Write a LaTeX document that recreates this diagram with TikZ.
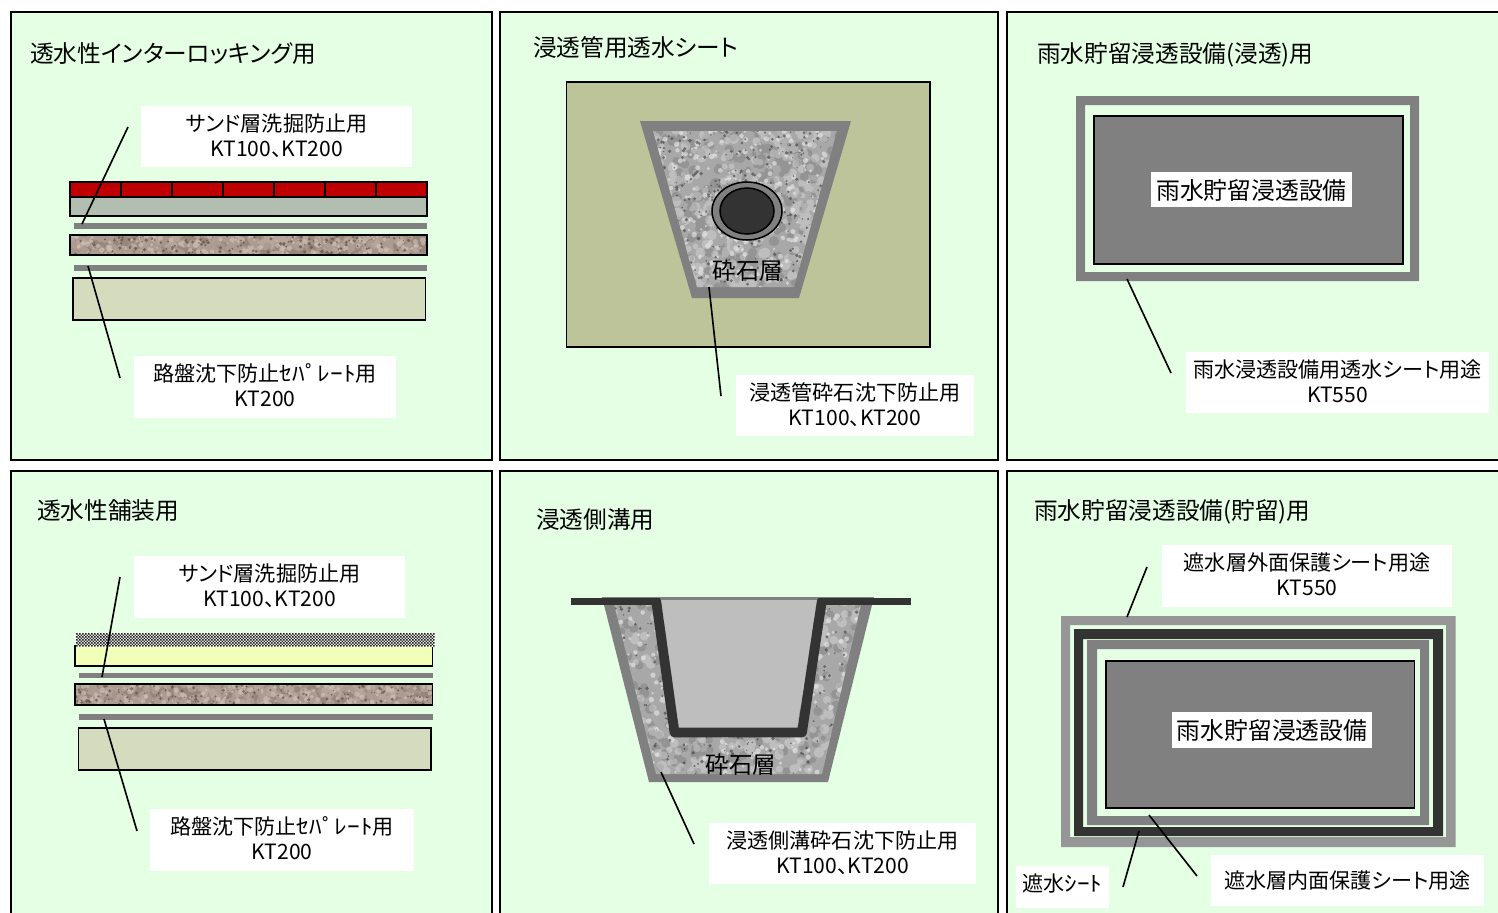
\documentclass[tikz,border=0pt]{standalone}
\usepackage{fontspec}
\newfontfamily\jpfont[RawFeature=+palt]{Noto Sans CJK JP}
\newfontfamily\halfkana[RawFeature=+palt,FakeStretch=1.2]{Noto Sans CJK JP}
\usetikzlibrary{patterns}

\definecolor{panelgreen}{HTML}{E4FFE4}
\definecolor{brickred}{HTML}{C00000}
\definecolor{sandgray}{HTML}{B2BEB0}
\definecolor{basegreen}{HTML}{D5DCBE}
\definecolor{soilgreen}{HTML}{BDC499}
\definecolor{sheetgray}{HTML}{808080}
\definecolor{framegray}{HTML}{969696}
\definecolor{darkliner}{HTML}{333333}
\definecolor{palepaste}{HTML}{F2FFB8}
\definecolor{watergray}{HTML}{BEBEBE}
\definecolor{brownbase}{HTML}{A8958A}
\definecolor{brownlight}{HTML}{D8CCC2}
\definecolor{browndark}{HTML}{54443C}
\definecolor{stonebase}{HTML}{A8A8A8}
\definecolor{stonelight}{HTML}{F2F2F2}
\definecolor{stonedark}{HTML}{3C3C3C}

\tikzset{
    panel/.style={draw=black, line width=1.7pt, fill=panelgreen},
    layer/.style={draw=black, line width=1.3pt},
    sheet/.style={fill=sheetgray},
    leader/.style={draw=black, line width=1.4pt},
    titletext/.style={anchor=west, inner sep=0pt, text height=17.5pt, text depth=2.5pt, font=\jpfont\fontsize{20.2}{24}\selectfont},
    labelbox/.style 2 args={fill=white, inner sep=0pt, align=center, minimum width=#1*0.03cm, minimum height=#2*0.03cm,
        font=\jpfont\fontsize{18}{21.3}\selectfont},
    twolines/.style={text depth=2.6pt},
    bigbox/.style 2 args={fill=white, inner sep=0pt, minimum width=#1*0.03cm, minimum height=#2*0.03cm,
        font=\jpfont\fontsize{20.3}{24}\selectfont},
    stonetext/.style={inner sep=0pt, font=\jpfont\fontsize{20}{24}\selectfont}
}

% x, y, width, height, count, base, light, dark
\newcommand{\stones}[8]{
    \fill[#6] (#1,#2) rectangle ++(#3,#4);
    \fill[#8, opacity=0.18] \foreach \i in {1,...,#5}{({#1+rnd*#3},{#2+rnd*#4}) circle [radius={2.5+rnd*3}]};
    \fill[#7, opacity=0.3] \foreach \i in {1,...,#5}{({#1+rnd*#3},{#2+rnd*#4}) circle [radius={2.5+rnd*3}]};
    \fill[#7, opacity=0.55] \foreach \i in {1,...,#5}{({#1+rnd*#3},{#2+rnd*#4}) circle [radius={1+rnd*1.8}]};
    \fill[#8, opacity=0.6] \foreach \i in {1,...,#5}{({#1+rnd*#3},{#2+rnd*#4}) circle [radius={0.6+rnd*1.3}]};
}

\begin{document}
\begin{tikzpicture}[x=0.03cm, y=-0.03cm]
    \clip (0,0) rectangle (1498,912);
    \fill[white] (0,0) rectangle (1498,912);
    \pgfmathsetseed{4711}

    % panels
    \draw[panel] (11,12) rectangle (492,460);
    \draw[panel] (500,12) rectangle (998,460);
    \draw[panel] (1007,12) rectangle (1520,460);
    \draw[panel] (11,471) rectangle (492,930);
    \draw[panel] (500,471) rectangle (998,930);
    \draw[panel] (1007,471) rectangle (1520,930);

    \node[titletext] at (30,54)(titleBlock){透水性インターロッキング用};
    \node[titletext] at (533,48)(titlePipe){浸透管用透水シート};
    \node[titletext] at (1037,54)(titleInfil){雨水貯留浸透設備(浸透)用};
    \node[titletext] at (37,511)(titlePave){透水性舗装用};
    \node[titletext] at (536,520)(titleGutter){浸透側溝用};
    \node[titletext] at (1034,511)(titleStore){雨水貯留浸透設備(貯留)用};

    % interlocking block section
    \draw[layer, fill=brickred] (70,182) rectangle (427,197);
    \foreach \bx in {121,172,223,274,325,376}
        \draw[layer] (\bx,182) -- (\bx,197);
    \draw[layer, fill=sandgray] (70,197) rectangle (427,216);
    \fill[sheet] (73.5,223) rectangle (427,228.5);
    \begin{scope}
        \clip (70,235) rectangle (427,255);
        \stones{70}{235}{357}{20}{150}{brownbase}{brownlight}{browndark}
    \end{scope}
    \draw[layer] (70,235) rectangle (427,255);
    \fill[sheet] (73.5,265) rectangle (427,270.5);
    \draw[layer, fill=basegreen] (73,278) rectangle (425.5,320);

    % pipe section
    \draw[draw=black, line width=1.3pt, fill=soilgreen] (566.5,82) rectangle (930,347);
    \fill[sheet] (640,121) -- (851,121) -- (799,298) -- (692,298) -- cycle;
    \begin{scope}
        \clip (653,131) -- (837,131) -- (794,287) -- (697,287) -- cycle;
        \stones{650}{128}{190}{162}{320}{stonebase}{stonelight}{stonedark}
    \end{scope}
    \draw[draw=black, line width=1.3pt, fill=sheetgray] (747,211) ellipse [x radius=35, y radius=29];
    \draw[draw=black, line width=1.3pt, fill=darkliner] (747,211) ellipse [x radius=27, y radius=23];
    \node[stonetext] at (748,271)(stonePipe){砕石層};

    % infiltration facility
    \fill[sheet, even odd rule] (1076,96) rectangle (1419,281) (1085,105) rectangle (1410,272);
    \draw[layer, fill=sheetgray] (1094,116) rectangle (1403,264);
    \node[bigbox={201}{35}, text height=20pt, text depth=2.5pt] at (1251.5,189.5)(coreInfil){雨水貯留浸透設備};

    % paving section
    \draw[layer, fill=palepaste] (75,646) rectangle (432.5,666);
    \fill[white] (76,633) rectangle (435,647);
    \fill[black!85]
    \foreach \cx in {0,2,...,238}{\foreach \cy in {0,2,...,8}{(76+\cx*1.5,633+\cy*1.5) rectangle ++(1.5,1.5)}}
    \foreach \cx in {1,3,...,237}{\foreach \cy in {1,3,...,7}{(76+\cx*1.5,633+\cy*1.5) rectangle ++(1.5,1.5)}};
    \fill[sheet] (79,672.5) rectangle (432.5,678);
    \begin{scope}
        \clip (75,684) rectangle (432.5,705);
        \stones{75}{684}{358}{21}{150}{brownbase}{brownlight}{browndark}
    \end{scope}
    \draw[layer] (75,684) rectangle (432.5,705);
    \fill[sheet] (79,714) rectangle (432.5,720);
    \draw[layer, fill=basegreen] (78.5,728) rectangle (431,770);

    % gutter section
    \fill[sheet] (602,597) -- (874,597) -- (828,782) -- (649,782) -- cycle;
    \begin{scope}
        \clip (613,600) -- (862,600) -- (822,774) -- (656,774) -- cycle;
        \stones{610}{598}{256}{178}{320}{stonebase}{stonelight}{stonedark}
    \end{scope}
    \fill[watergray] (661,600) -- (817,600) -- (797,728) -- (679,728) -- cycle;
    \fill[sheet] (661,597.5) rectangle (817,600);
    \draw[draw=darkliner, line width=8.3pt, line join=round] (656,600) -- (674.5,732.5) -- (802,732.5) -- (822,600);
    \fill[darkliner] (571,597.5) rectangle (660,604.5);
    \fill[darkliner] (818,597.5) rectangle (911,604.5);
    \node[stonetext] at (741,765)(stoneGutter){砕石層};

    % storage facility
    \fill[fill=framegray, even odd rule] (1061,616) rectangle (1455.5,847) (1070,625) rectangle (1446,837);
    \fill[fill=darkliner, even odd rule] (1074,629) rectangle (1443,836) (1083,639) rectangle (1433,827);
    \fill[sheet, even odd rule] (1087,640) rectangle (1429,825) (1097,649) rectangle (1420,816);
    \draw[layer, fill=sheetgray] (1106,661) rectangle (1414.5,808);
    \node[bigbox={200}{36}, text height=18.5pt, text depth=2.5pt] at (1272,730)(coreStore){雨水貯留浸透設備};

    % labels
    \node[labelbox={271}{61}, twolines] at (276.5,136.5)(sandTop){サンド層洗掘防止用\\KT100、KT200};
    \node[labelbox={262}{62}, twolines] at (265,387)(baseTop){路盤沈下防止{\halfkana ｾﾊﾟﾚｰﾄ}用\\KT200};
    \node[labelbox={238}{61}, twolines] at (855,405.5)(stoneNote){浸透管砕石沈下防止用\\KT100、KT200};
    \node[labelbox={303}{61}, twolines] at (1337.5,382.5)(sheetNote){雨水浸透設備用透水シート用途\\KT550};
    \node[labelbox={271}{62}, twolines] at (269.5,587)(sandBot){サンド層洗掘防止用\\KT100、KT200};
    \node[labelbox={264}{62}, twolines] at (282,840)(baseBot){路盤沈下防止{\halfkana ｾﾊﾟﾚｰﾄ}用\\KT200};
    \node[labelbox={267}{61}, twolines] at (842.5,853.5)(gutterNote){浸透側溝砕石沈下防止用\\KT100、KT200};
    \node[labelbox={290}{62}, twolines] at (1307,576)(outerNote){遮水層外面保護シート用途\\KT550};
    \node[labelbox={93}{42}, text depth=7pt] at (1062.5,887)(waterNote){遮水{\halfkana ｼｰﾄ}};
    \node[labelbox={273}{51}] at (1347.5,880.5)(innerNote){遮水層内面保護シート用途};

    % leaders
    \coordinate (sandTopA) at (128,127);
    \coordinate (sandTopB) at (82,224);
    \coordinate (baseTopA) at (88,266);
    \coordinate (baseTopB) at (120,378);
    \coordinate (stoneA) at (709,287);
    \coordinate (stoneB) at (721,396);
    \coordinate (sheetA) at (1127,279);
    \coordinate (sheetB) at (1171,373);
    \coordinate (sandBotA) at (120,577);
    \coordinate (sandBotB) at (102,677);
    \coordinate (baseBotA) at (104,719);
    \coordinate (baseBotB) at (137,831);
    \coordinate (gutterA) at (661,772);
    \coordinate (gutterB) at (694,844);
    \coordinate (outerA) at (1147,567);
    \coordinate (outerB) at (1127,617);
    \coordinate (waterA) at (1139,831);
    \coordinate (waterB) at (1123,887);
    \coordinate (innerA) at (1149,815);
    \coordinate (innerB) at (1197,876);

    \path[leader]
    (sandTopA)--(sandTopB)
    (baseTopA)--(baseTopB)
    (stoneA)--(stoneB)
    (sheetA)--(sheetB)
    (sandBotA)--(sandBotB)
    (baseBotA)--(baseBotB)
    (gutterA)--(gutterB)
    (outerA)--(outerB)
    (waterA)--(waterB)
    (innerA)--(innerB)
    ;
\end{tikzpicture}
\end{document}
